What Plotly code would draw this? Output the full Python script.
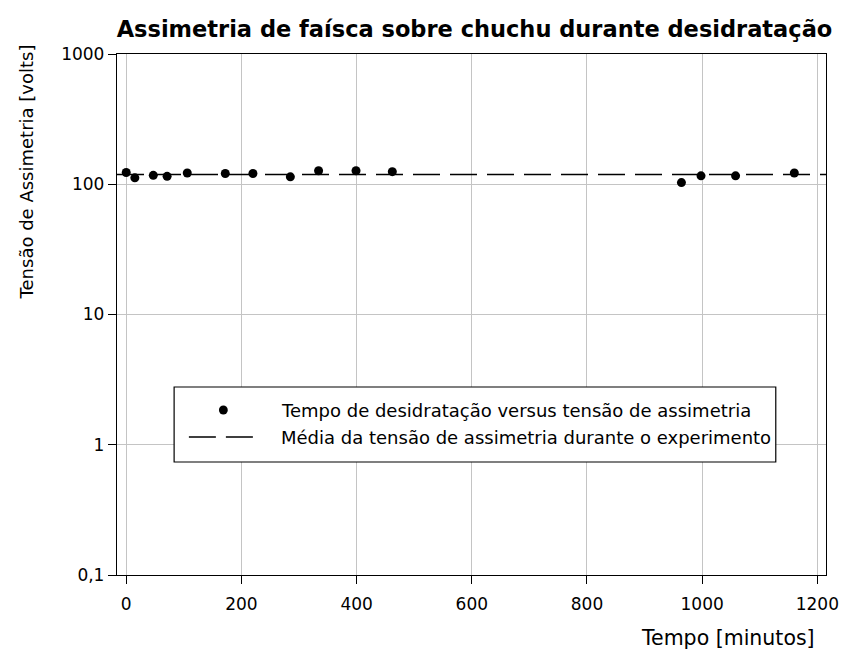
import numpy as np
import plotly.graph_objects as go

# Dehydration time (minutes) and measured asymmetry voltage (volts)
tempo_min = [0, 15, 47, 71, 106, 172, 220, 285, 334, 399, 462, 964, 998, 1058, 1160]
tensao_v = [123, 112, 117, 115, 122, 121, 121, 114, 127, 127, 125, 103, 116, 116, 122]

x_ticks = [0, 200, 400, 600, 800, 1000, 1200]
y_ticks = [0.1, 1, 10, 100, 1000]
y_tick_text = ["0,1", "1", "10", "100", "1000"]

X_RANGE = [-16, 1215]
Y_RANGE_LOG = [-1.0, 3.0]

media = float(np.mean(tensao_v))

W, H = 851, 661
ML, MR, MT, MB = 117, 14, 54, 86
PW, PH = W - ML - MR, H - MT - MB

FONT = "DejaVu Sans"


def px(xp):
    return (xp - ML) / PW


def py(yp):
    return (H - MB - yp) / PH


fig = go.Figure()

fig.add_trace(go.Scatter(
    x=X_RANGE, y=[media, media], mode="lines",
    line=dict(color="black", width=1.4, dash="27px,10px"),
    showlegend=False, hoverinfo="skip",
))
fig.add_trace(go.Scatter(
    x=tempo_min, y=tensao_v, mode="markers",
    marker=dict(color="black", size=9, symbol="circle"),
    showlegend=False,
))

axis_common = dict(
    showline=True, linecolor="black", linewidth=1.3, mirror=True,
    ticks="outside", ticklen=8, tickcolor="black", tickwidth=1.3,
    showgrid=True, gridcolor="#c4c4c4", gridwidth=1,
    zeroline=False,
    tickfont=dict(family=FONT, size=17, color="black"),
)

fig.update_xaxes(range=X_RANGE, tickvals=x_ticks, ticklabelstandoff=5,
                 **axis_common)
fig.update_yaxes(type="log", range=Y_RANGE_LOG, tickvals=y_ticks,
                 ticktext=y_tick_text, **axis_common)

# Legend box drawn in paper space
shapes = [
    dict(type="rect", xref="paper", yref="paper",
         x0=px(175), x1=px(786), y0=py(387), y1=py(462),
         line=dict(color="black", width=1.2), fillcolor="white", layer="above"),
    dict(type="line", xref="paper", yref="paper",
         x0=px(190), x1=px(262), y0=py(437), y1=py(437),
         line=dict(color="black", width=1.4, dash="27px,10px"), layer="above"),
    dict(type="circle", xref="paper", yref="paper",
         x0=px(220.5), x1=px(229.5), y0=py(405.5), y1=py(414.5),
         line=dict(color="black", width=0), fillcolor="black", layer="above"),
]

annotations = [
    dict(xref="paper", yref="paper", x=px(282), y=py(410), xanchor="left",
         yanchor="middle", showarrow=False,
         text="Tempo de desidratação versus tensão de assimetria",
         font=dict(family=FONT, size=18, color="black")),
    dict(xref="paper", yref="paper", x=px(282), y=py(437), xanchor="left",
         yanchor="middle", showarrow=False,
         text="Média da tensão de assimetria durante o experimento",
         font=dict(family=FONT, size=18, color="black")),
    dict(xref="paper", yref="paper", x=px(737), y=py(638), xanchor="center",
         yanchor="middle", showarrow=False, text="Tempo [minutos]",
         font=dict(family=FONT, size=20.5, color="black")),
    dict(xref="paper", yref="paper", x=px(26), y=py(172), xanchor="center",
         yanchor="middle", showarrow=False, textangle=-90,
         text="Tensão de Assimetria [volts]",
         font=dict(family=FONT, size=18, color="black")),
]

fig.update_layout(
    width=W, height=H,
    margin=dict(l=ML, r=MR, t=MT, b=MB),
    paper_bgcolor="white", plot_bgcolor="white",
    title=dict(text="<b>Assimetria de faísca sobre chuchu durante desidratação</b>",
               x=474.5 / W, xanchor="center", y=1 - 29 / H, yanchor="middle",
               font=dict(family=FONT, size=22.5, color="black")),
    shapes=shapes, annotations=annotations,
    showlegend=False,
)

fig.write_html("out.html")
